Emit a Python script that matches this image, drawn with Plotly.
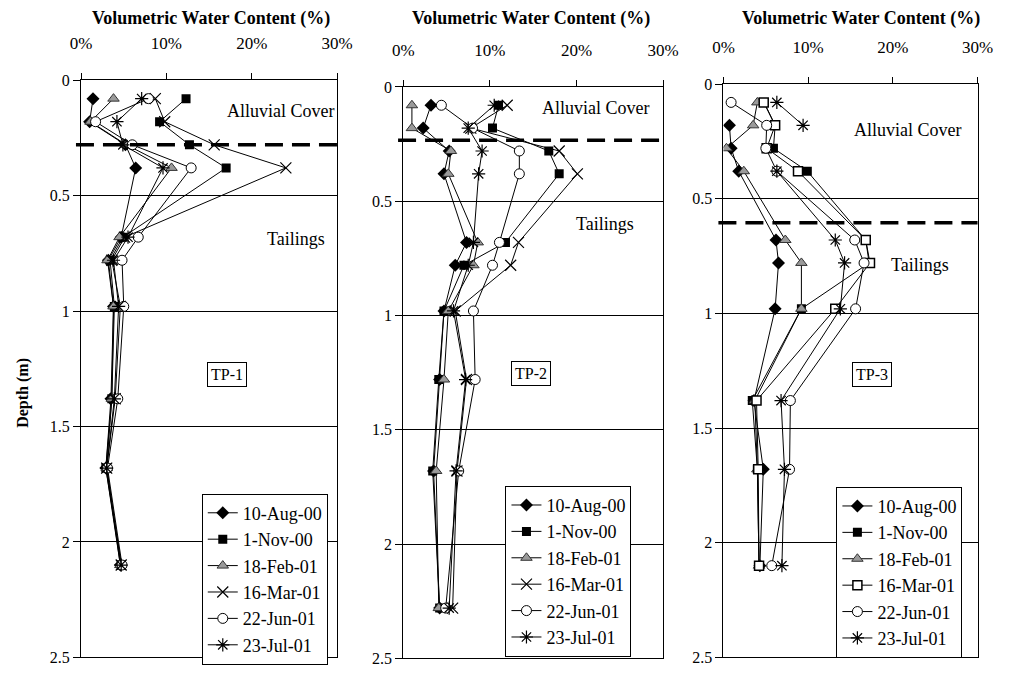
import plotly.graph_objects as go

W, H = 1013, 682

series_names = ["10-Aug-00", "1-Nov-00", "18-Feb-01", "16-Mar-01", "22-Jun-01", "23-Jul-01"]

depth_tp1 = [0.08, 0.18, 0.28, 0.38, 0.68, 0.78, 0.98, 1.38, 1.68, 2.10]
depth_tp2 = [0.08, 0.18, 0.28, 0.38, 0.68, 0.78, 0.98, 1.28, 1.68, 2.28]
depth_tp3 = [0.08, 0.18, 0.28, 0.38, 0.68, 0.78, 0.98, 1.38, 1.68, 2.10]

aug00_tp1 = [1.4, 1.0, 5.2, 6.4, 4.7, 3.2, 3.8, 3.5, 2.9, 4.6]
nov00_tp1 = [12.3, 9.2, 12.7, 17.0, 4.9, 3.4, 3.9, 3.6, 2.9, 4.7]
feb01_tp1 = [3.8, 1.1, 5.3, 10.6, 4.5, 3.1, 3.8, 3.6, 3.0, 4.6]
mar01_tp1 = [8.7, 9.8, 15.6, 24.0, 5.1, 3.6, 4.6, 4.0, 3.0, 4.7]
jun01_tp1 = [7.9, 1.7, 6.0, 12.9, 6.7, 4.8, 5.0, 4.3, 3.1, 4.8]
jul01_tp1 = [7.1, 4.2, 4.9, 9.6, 5.5, 3.8, 4.4, 3.9, 3.0, 4.7]

aug00_tp2 = [3.2, 2.3, 5.3, 4.7, 7.3, 6.0, 4.7, 4.2, 3.5, 4.2]
nov00_tp2 = [11.0, 10.3, 16.8, 18.0, 11.8, 7.0, 4.7, 4.1, 3.4, 4.2]
feb01_tp2 = [1.0, 1.0, 5.5, 5.2, 8.6, 8.1, 5.2, 4.7, 3.8, 4.1]
mar01_tp2 = [12.0, 7.8, 18.0, 20.1, 13.3, 12.4, 6.0, 7.3, 6.2, 5.7]
jun01_tp2 = [4.4, 8.0, 13.4, 13.4, 11.1, 10.3, 8.1, 8.3, 6.4, 4.9]
jul01_tp2 = [10.5, 7.5, 9.1, 8.7, 8.1, 7.5, 5.8, 7.2, 6.1, 5.3]

aug00_tp3 = [None, 0.7, 0.9, 1.8, 6.2, 6.5, 6.1, 3.6, 4.7, 4.3]
nov00_tp3 = [4.8, 6.1, 5.9, 9.9, 16.8, 17.2, 9.2, 3.4, 4.0, 4.2]
feb01_tp3 = [4.0, 3.5, 0.35, 2.4, 7.3, 9.2, 9.2, 3.7, 4.0, 4.2]
mar01_tp3 = [4.75, 6.1, 5.1, 8.8, 16.8, 17.3, 13.2, 3.9, 4.1, 4.2]
jun01_tp3 = [0.9, 5.1, 5.0, 6.3, 15.5, 16.6, 15.6, 7.9, 7.8, 5.7]
jul01_tp3 = [6.3, 9.4, None, 6.3, 13.2, 14.3, 13.8, 6.8, 7.2, 6.9]

x_ticks = [0, 10, 20, 30]
x_ticktext = ["0%", "10%", "20%", "30%"]
y_ticks = [0, 0.5, 1, 1.5, 2, 2.5]
y_ticktext = ["0", "0.5", "1", "1.5", "2", "2.5"]

boundary_depths = [0.28, 0.233, 0.605]
panel_labels = ["TP-1", "TP-2", "TP-3"]

FONT = "Liberation Serif"

panels = [
    dict(depth=depth_tp1, vals=[aug00_tp1, nov00_tp1, feb01_tp1, mar01_tp1, jun01_tp1, jul01_tp1],
         xpx=(72, 335), ypx=(74, 666), mar_square=False),
    dict(depth=depth_tp2, vals=[aug00_tp2, nov00_tp2, feb01_tp2, mar01_tp2, jun01_tp2, jul01_tp2],
         xpx=(403, 670), ypx=(81, 667), mar_square=False),
    dict(depth=depth_tp3, vals=[aug00_tp3, nov00_tp3, feb01_tp3, mar01_tp3, jun01_tp3, jul01_tp3],
         xpx=(732, 993), ypx=(78, 666), mar_square=True),
]


def marker_style(i, mar_square):
    if i == 0:
        return dict(symbol="diamond", size=10, color="black", line=dict(color="black", width=0))
    if i == 1:
        return dict(symbol="square", size=9, color="black", line=dict(color="black", width=0))
    if i == 2:
        return dict(symbol="triangle-up", size=10, color="#9a9a9a", line=dict(color="#333333", width=1))
    if i == 3:
        if mar_square:
            return dict(symbol="square", size=9, color="white", line=dict(color="black", width=1.5))
        return dict(symbol="x-thin-open", size=11, color="black", line=dict(color="black", width=1.2))
    if i == 4:
        return dict(symbol="circle", size=10, color="white", line=dict(color="black", width=1))
    return dict(symbol="asterisk-open", size=11, color="black", line=dict(color="black", width=1.2))


fig = go.Figure()
layout = dict(
    width=W, height=H,
    margin=dict(l=0, r=0, t=0, b=0),
    paper_bgcolor="white", plot_bgcolor="white",
    font=dict(family=FONT, color="black"),
    shapes=[], annotations=[],
)

for p, panel in enumerate(panels):
    n = "" if p == 0 else str(p + 1)
    xa, ya = "x" + n, "y" + n
    leg = "legend" + n
    for i, name in enumerate(series_names):
        fig.add_trace(go.Scatter(
            x=panel["vals"][i], y=panel["depth"], name=name, mode="lines+markers",
            line=dict(color="black", width=1), marker=marker_style(i, panel["mar_square"]),
            xaxis=xa, yaxis=ya, legend=leg, connectgaps=False,
        ))
    x0, x1 = panel["xpx"]
    y0, y1 = panel["ypx"]
    layout["xaxis" + n] = dict(
        domain=[x0 / W, x1 / W], range=[0, 30], side="top", anchor=ya,
        tickvals=x_ticks, ticktext=x_ticktext, ticks="outside", ticklen=6, tickcolor="black",
        showline=True, linecolor="black", linewidth=1.2, mirror=True,
        showgrid=False, zeroline=False, tickfont=dict(size=17, family=FONT),
        ticklabelstandoff=17,
    )
    layout["yaxis" + n] = dict(
        domain=[1 - y1 / H, 1 - y0 / H], range=[2.5, 0], anchor=xa,
        tickvals=y_ticks, ticktext=y_ticktext, ticks="outside", ticklen=7, tickcolor="black",
        showline=True, linecolor="black", linewidth=1.2, mirror=True,
        showgrid=True, gridcolor="black", gridwidth=1, zeroline=False,
        tickfont=dict(size=16, family=FONT),
    )
    lx = {0: (196, 498), 1: (508, 490), 2: (848, 491)}[p]
    layout[leg] = dict(
        x=lx[0] / W, y=1 - lx[1] / H, xanchor="left", yanchor="top",
        bgcolor="white", bordercolor="black", borderwidth=1,
        font=dict(size=18, family=FONT), traceorder="normal",
    )
    layout["shapes"].append(dict(
        type="line", xref=xa + " domain", yref=ya, x0=-0.02, x1=1.0,
        y0=boundary_depths[p], y1=boundary_depths[p],
        line=dict(color="black", width=3.5, dash="18px,9px"),
    ))
    layout["annotations"].append(dict(
        text="<b>Volumetric Water Content (%)</b>", xref="paper", yref="paper",
        x={0: 205, 1: 534, 2: 873}[p] / W, y=1 - 11 / H, showarrow=False,
        font=dict(size=18, family=FONT), xanchor="center", yanchor="middle",
    ))
    ac = {0: (277, 106), 1: (601, 103), 2: (921, 125)}[p]
    tl = {0: (293, 237), 1: (610, 222), 2: (934, 264)}[p]
    tp = {0: (222, 376), 1: (534, 375), 2: (885, 376)}[p]
    layout["annotations"].append(dict(
        text="Alluvial Cover", xref="paper", yref="paper", x=ac[0] / W, y=1 - ac[1] / H,
        showarrow=False, font=dict(size=18, family=FONT), xanchor="center", yanchor="middle",
    ))
    layout["annotations"].append(dict(
        text="Tailings", xref="paper", yref="paper", x=tl[0] / W, y=1 - tl[1] / H,
        showarrow=False, font=dict(size=18, family=FONT), xanchor="center", yanchor="middle",
    ))
    layout["annotations"].append(dict(
        text=panel_labels[p], xref="paper", yref="paper", x=tp[0] / W, y=1 - tp[1] / H,
        showarrow=False, font=dict(size=16, family=FONT), xanchor="center", yanchor="middle",
        bordercolor="black", borderwidth=1, borderpad=3, bgcolor="white",
    ))

layout["annotations"].append(dict(
    text="<b>Depth (m)</b>", xref="paper", yref="paper", x=13 / W, y=1 - 395 / H,
    showarrow=False, textangle=-90, font=dict(size=16, family=FONT),
    xanchor="center", yanchor="middle",
))

fig.update_layout(**layout)
fig.write_html("out.html")
